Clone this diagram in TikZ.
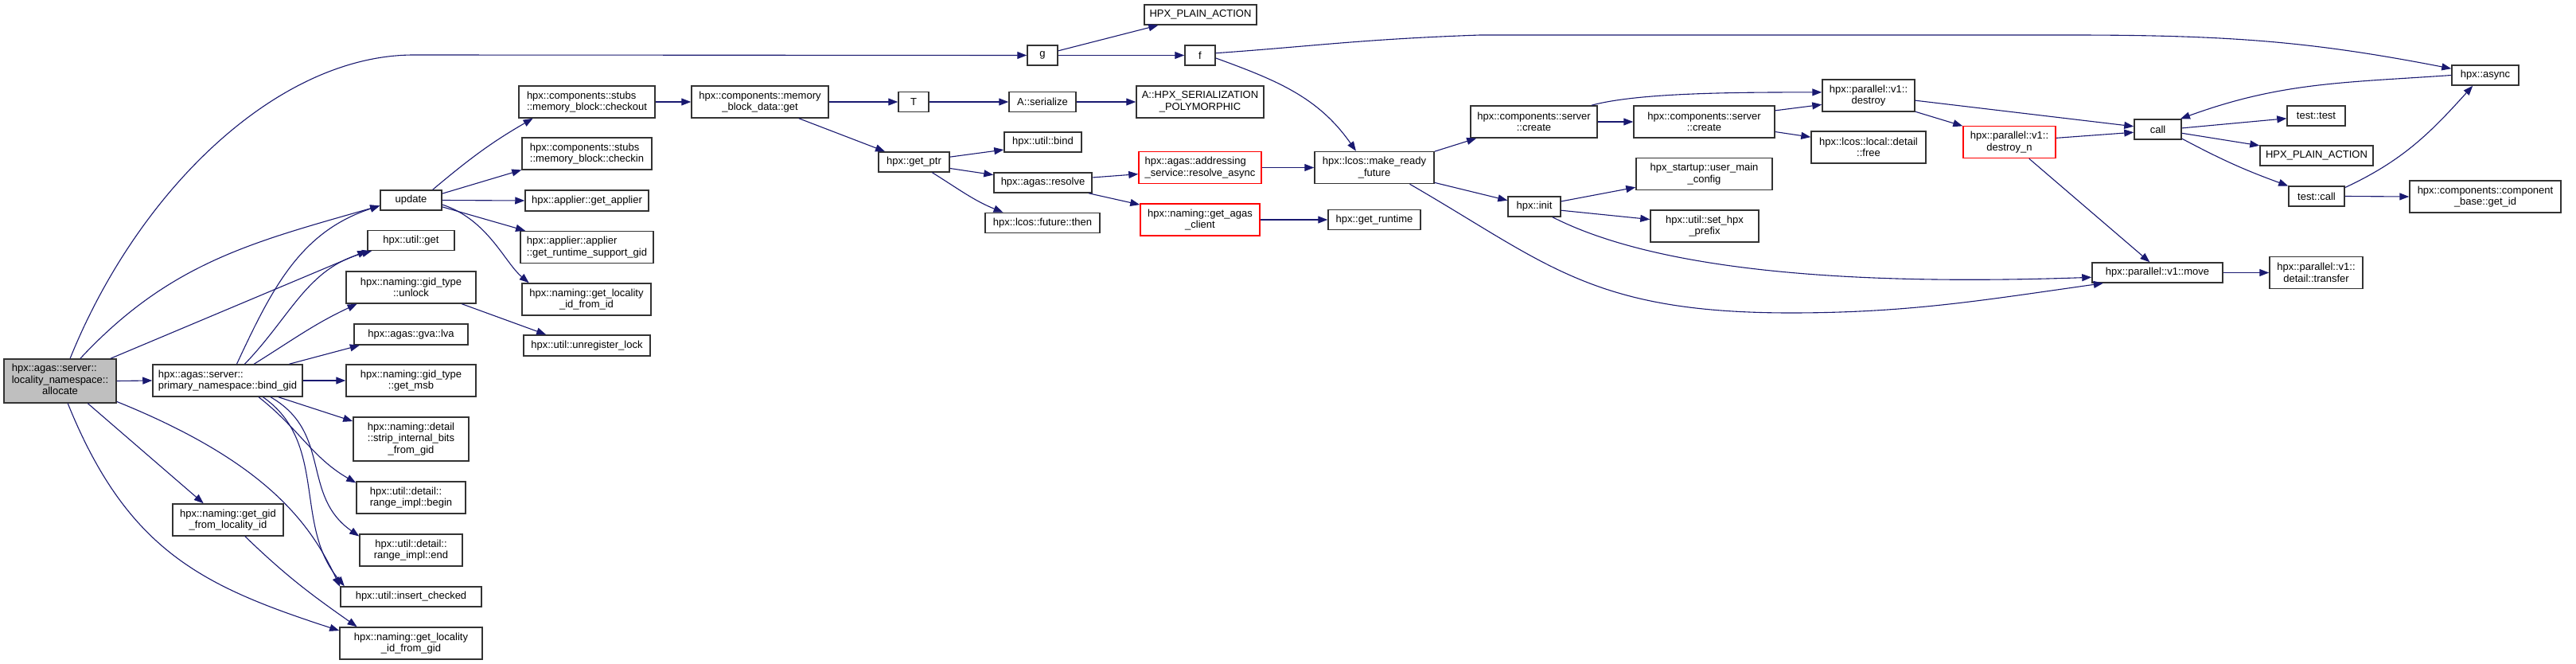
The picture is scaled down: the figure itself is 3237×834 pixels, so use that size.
\documentclass[tikz,border=0pt]{standalone}
\usepackage{fontspec}
\setmainfont{Liberation Sans}
\usetikzlibrary{arrows.meta}
\definecolor{edgeblue}{HTML}{191970}
\definecolor{boxline}{HTML}{333333}
\definecolor{curfill}{HTML}{BFBFBF}
\definecolor{hotred}{HTML}{FF0000}

\begin{document}
\begin{tikzpicture}[
  x=1pt,y=1pt,
  font=\fontsize{13}{14.5}\selectfont,
  fn/.style={draw=boxline,line width=1.5pt,fill=white,inner sep=0pt,align=center},
  fnred/.style={fn,draw=hotred},
  sz/.style 2 args={minimum width=#1pt,minimum height=#2pt},
  calls/.style={-{Triangle[length=12pt,width=9pt]},draw=edgeblue,line width=1.1pt},
]
\useasboundingbox (0,0) rectangle (3237,-834);

% the function being documented
\node[fn,sz={141}{55},fill=curfill] (alloc) at (75.5,-478.5)
  {\begin{tabular}{@{}l@{}}hpx::agas::server::\\locality\_namespace::\\
   \multicolumn{1}{@{}c@{}}{allocate}\end{tabular}};

% first level
\node[fn,sz={188}{40},align=left] (bind) at (286,-478)
  {hpx::agas::server::\\primary\_namespace::bind\_gid};
\node[fn,sz={139}{40}] (gidloc) at (286.5,-653) {hpx::naming::get\_gid\\\_from\_locality\_id};

\node[fn,sz={77}{25}] (upd) at (516.5,-251.5) {update};
\node[fn,sz={109}{25}] (uget) at (516.5,-302) {hpx::util::get};
\node[fn,sz={163}{40}] (unlock) at (516.5,-361) {hpx::naming::gid\_type\\::unlock};
\node[fn,sz={143}{26}] (lva) at (516.5,-420) {hpx::agas::gva::lva};
\node[fn,sz={163}{40}] (msb) at (516.5,-478) {hpx::naming::gid\_type\\::get\_msb};
\node[fn,sz={145}{55}] (strip) at (516.5,-551.5)
  {hpx::naming::detail\\::strip\_internal\_bits\\\_from\_gid};
\node[fn,sz={137}{40},align=left] (rbegin) at (516.5,-625) {hpx::util::detail::\\range\_impl::begin};
\node[fn,sz={129}{40}] (rend) at (516.5,-691) {hpx::util::detail::\\range\_impl::end};
\node[fn,sz={177}{25}] (ins) at (516.5,-749.5) {hpx::util::insert\_checked};
\node[fn,sz={179}{40}] (lidgid) at (516.5,-808) {hpx::naming::get\_locality\\\_id\_from\_gid};

% called from update
\node[fn,sz={171}{40},align=left] (chkout) at (737.5,-128)
  {hpx::components::stubs\\::memory\_block::checkout};
\node[fn,sz={163}{40},align=left] (chkin) at (737.5,-193)
  {hpx::components::stubs\\::memory\_block::checkin};
\node[fn,sz={155}{26}] (getapp) at (737.5,-252) {hpx::applier::get\_applier};
\node[fn,sz={167}{40},align=left] (rtgid) at (737.5,-310.5)
  {hpx::applier::applier\\::get\_runtime\_support\_gid};
\node[fn,sz={162}{40}] (lidid) at (737,-376) {hpx::naming::get\_locality\\\_id\_from\_id};
\node[fn,sz={159}{26}] (unreg) at (737.5,-434) {hpx::util::unregister\_lock};

\node[fn,sz={172}{40}] (mbget) at (955,-128) {hpx::components::memory\\\_block\_data::get};
\node[fn,sz={38}{25}] (tnode) at (1148,-128) {T};
\node[fn,sz={89}{25}] (getptr) at (1148.5,-203.5) {hpx::get\_ptr};

\node[fn,sz={38}{25}] (g) at (1310,-69.5) {g};
\node[fn,sz={84}{25}] (aser) at (1310,-128) {A::serialize};
\node[fn,sz={97}{25}] (utilbind) at (1310.5,-178.5) {hpx::util::bind};
\node[fn,sz={123}{25}] (resolve) at (1310.5,-229.5) {hpx::agas::resolve};
\node[fn,sz={144}{25}] (then) at (1310,-280) {hpx::lcos::future::then};

\node[fn,sz={141}{25}] (plain) at (1508.5,-18.5) {HPX\_PLAIN\_ACTION};
\node[fn,sz={38}{25}] (f) at (1508,-69.5) {f};
\node[fn,sz={160}{40}] (apoly) at (1508,-128) {A::HPX\_SERIALIZATION\\\_POLYMORPHIC};
\node[fnred,sz={154}{40},align=left] (resasync) at (1508,-210.5)
  {hpx::agas::addressing\\\_service::resolve\_async};
\node[fnred,sz={150}{40}] (agascl) at (1508,-276) {hpx::naming::get\_agas\\\_client};

\node[fn,sz={150}{40}] (mrf) at (1727,-210.5) {hpx::lcos::make\_ready\\\_future};
\node[fn,sz={116}{25}] (getrt) at (1727,-276) {hpx::get\_runtime};

\node[fn,sz={159}{40}] (create1) at (1927.5,-153) {hpx::components::server\\::create};
\node[fn,sz={66}{25}] (init) at (1928,-259.5) {hpx::init};

\node[fn,sz={177}{40}] (create2) at (2141.5,-153) {hpx::components::server\\::create};
\node[fn,sz={171}{40}] (umc) at (2141.5,-218.5) {hpx\_startup::user\_main\\\_config};
\node[fn,sz={136}{40}] (prefix) at (2142,-284) {hpx::util::set\_hpx\\\_prefix};

\node[fn,sz={116}{40}] (destroy) at (2348,-120) {hpx::parallel::v1::\\destroy};
\node[fn,sz={144}{40}] (free) at (2348,-185) {hpx::lcos::local::detail\\::free};
\node[fnred,sz={116}{40}] (destroyn) at (2525,-178.5) {hpx::parallel::v1::\\destroy\_n};

\node[fn,sz={59}{25}] (callnd) at (2711.5,-162.5) {call};
\node[fn,sz={164}{25}] (move) at (2711,-342.5) {hpx::parallel::v1::move};

\node[fn,sz={73}{25}] (ttest) at (2910.5,-145.5) {test::test};
\node[fn,sz={142}{25}] (plain2) at (2911,-195.5) {HPX\_PLAIN\_ACTION};
\node[fn,sz={70}{25}] (tcall) at (2911,-246.5) {test::call};
\node[fn,sz={117}{40}] (transfer) at (2910.5,-342.5) {hpx::parallel::v1::\\detail::transfer};

\node[fn,sz={84}{25}] (async) at (3123,-94.5) {hpx::async};
\node[fn,sz={190}{40}] (getid) at (3123,-247) {hpx::components::component\\\_base::get\_id};

% edges out of allocate
\draw[calls] (alloc.66) to[out=68,in=180,out distance=230pt,in distance=170pt] (520,-69) -- (g.west);
\draw[calls] (alloc.48) to[out=47,in=196] (upd.190);
\draw[calls] (alloc.24) -- (uget.193);
\draw[calls] (alloc.east) -- (bind.west);
\draw[calls] (alloc.-39) -- (gidloc.146);
\draw[calls] (alloc.-20) to[out=-22,in=115,out distance=200pt,in distance=90pt] (ins.172.5);
\draw[calls] (alloc.-71) to[out=-68,in=162,out distance=200pt,in distance=180pt] (lidgid.170);

% edges out of bind_gid
\draw[calls] (bind.61) to[out=65,in=198] (upd.190);
\draw[calls] (bind.44) to[out=46,in=195] (uget.195);
\draw[calls] (bind.32) to[out=32,in=205] (unlock.197);
\draw[calls] (bind.15) -- (lva.192);
\draw[calls] (bind.east) -- (msb.west);
\draw[calls] (bind.-18) -- (strip.163);
\draw[calls] (bind.-28) to[out=-38,in=150] (rbegin.165);
\draw[calls] (bind.-21) to[out=-30,in=145,out distance=90pt,in distance=90pt] (rend.165);
\draw[calls] (bind.-25) to[out=-35,in=130,out distance=100pt,in distance=100pt] (ins.171);
\draw[calls] (gidloc.-44) to[out=-44,in=145] (lidgid.163);

% update and below
\draw[calls] (upd.26) to[out=40,in=210] (chkout.197);
\draw[calls] (upd.12) -- (chkin.194);
\draw[calls] (upd.east) -- (getapp.west);
\draw[calls] (upd.-12) -- (rtgid.165);
\draw[calls] (upd.-8) to[out=-18,in=140,out distance=60pt,in distance=40pt] (lidid.164);
\draw[calls] (unlock.-18) -- (unreg.165);
\draw[calls] (chkout.east) -- (mbget.west);
\draw[calls] (mbget.east) -- (tnode.west);
\draw[calls] (mbget.-23) -- (getptr.160);
\draw[calls] (tnode.east) -- (aser.west);
\draw[calls] (aser.east) -- (apoly.west);

% g, f and the get_ptr chain
\draw[calls] (g.16) -- (plain.194);
\draw[calls] (g.east) -- (f.west);
\draw[calls] (f.8) to[out=4,in=182,out distance=120pt,in distance=150pt] (1860,-44) -- (2600,-44)
  to[out=0,in=169,out distance=200pt,in distance=180pt] (async.169);
\draw[calls] (f.-10) to[out=-20,in=125] (mrf.138);
\draw[calls] (getptr.8) -- (utilbind.191);
\draw[calls] (getptr.-10) -- (resolve.171);
\draw[calls] (getptr.-30) to[out=-32,in=158] (then.165);
\draw[calls] (resolve.6) -- (resasync.186);
\draw[calls] (resolve.-13) -- (agascl.166);
\draw[calls] (resasync.east) -- (mrf.west);
\draw[calls] (agascl.east) -- (getrt.west);

% make_ready_future and on
\draw[calls] (mrf.15) -- (create1.196);
\draw[calls] (mrf.-14) -- (init.167);
\draw[calls] (mrf.-25) to[out=-30,in=180,out distance=200pt,in distance=250pt] (2250,-393)
  to[out=0,in=188,out distance=150pt,in distance=150pt] (move.191);
\draw[calls] (create1.east) -- (create2.west);
\draw[calls] (create1.16) to[out=15,in=180,out distance=60pt,in distance=115pt] (destroy.176);
\draw[calls] (create2.9) -- (destroy.191);
\draw[calls] (create2.-8) -- (free.170);
\draw[calls] (init.11) -- (umc.191);
\draw[calls] (init.-8) -- (prefix.173);
\draw[calls] (init.-30) to[out=-27,in=182,out distance=150pt,in distance=300pt] (move.184);
\draw[calls] (destroy.-6) -- (callnd.173);
\draw[calls] (destroy.-19) -- (destroyn.161);
\draw[calls] (destroyn.5) -- (callnd.187);
\draw[calls] (destroyn.-40) -- (move.126);
\draw[calls] (move.east) -- (transfer.west);

% call, test::call and async
\draw[calls] (callnd.3) -- (ttest.185);
\draw[calls] (callnd.-9) -- (plain2.170);
\draw[calls] (callnd.-21) to[out=-28,in=160] (tcall.160);
\draw[calls] (async.west) to[out=184,in=20] (callnd.25);
\draw[calls] (tcall.17) to[out=25,in=-132] (async.220);
\draw[calls] (tcall.east) -- (getid.west);

\end{tikzpicture}
\end{document}
